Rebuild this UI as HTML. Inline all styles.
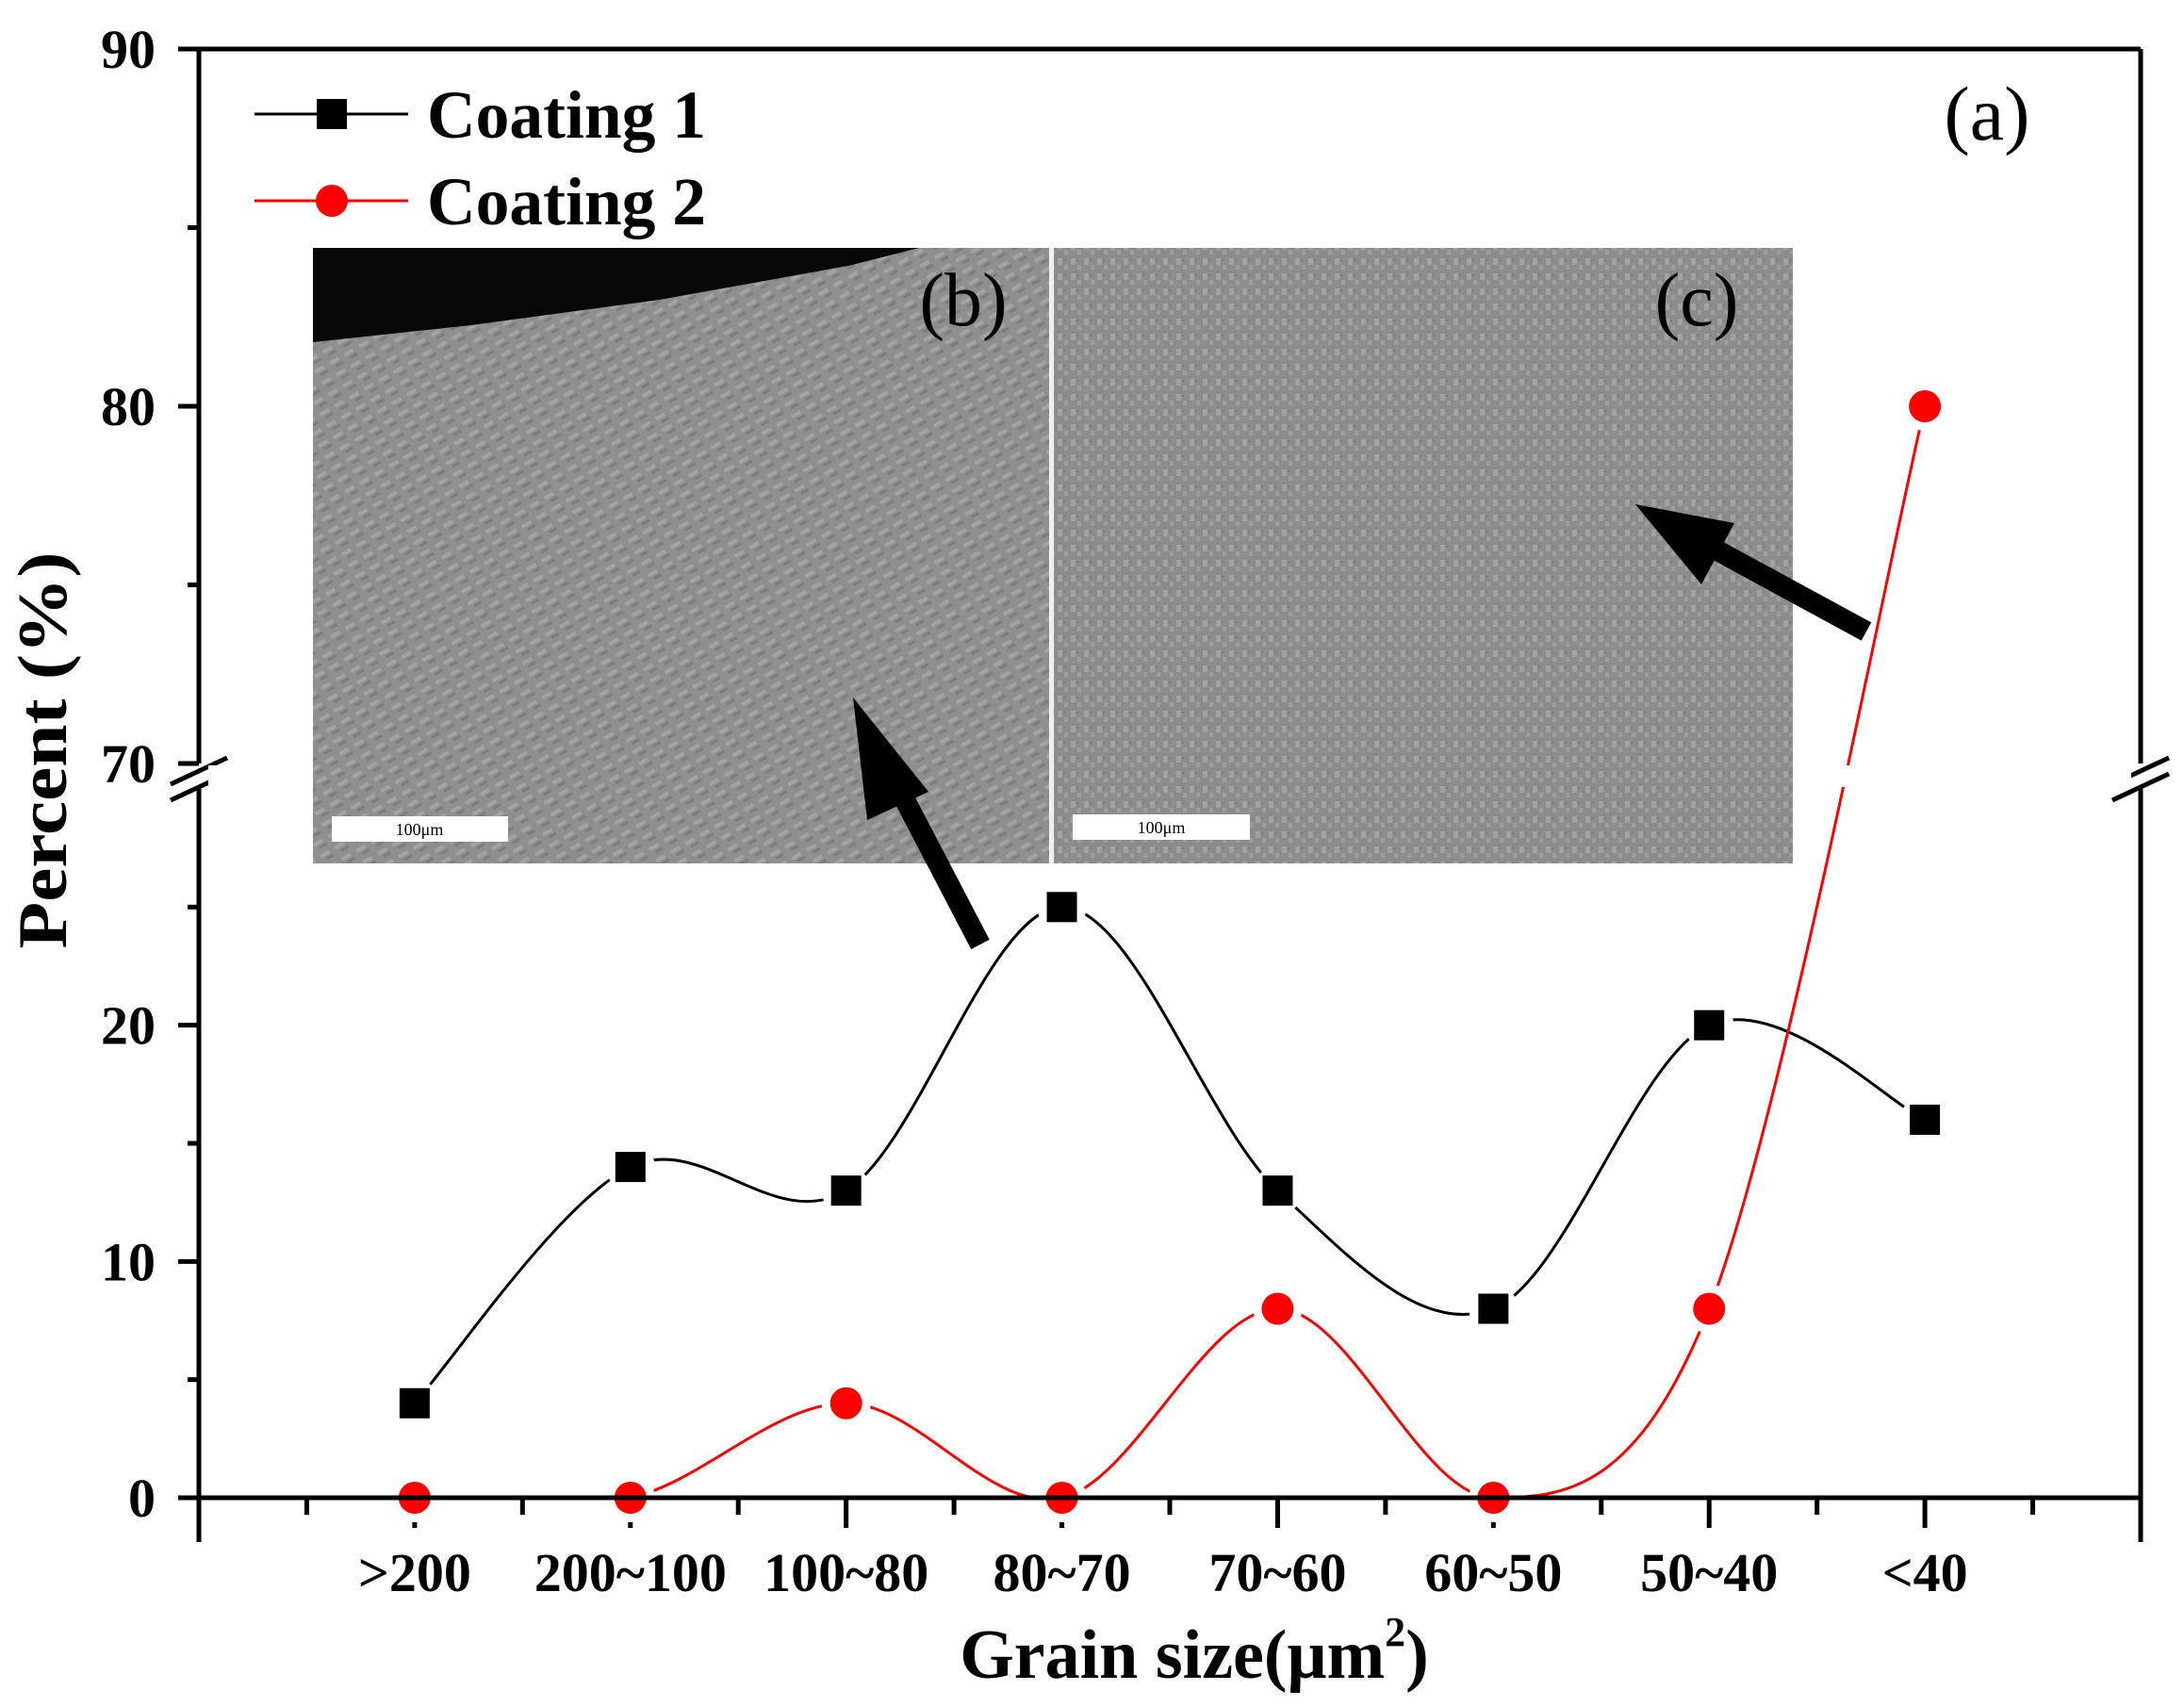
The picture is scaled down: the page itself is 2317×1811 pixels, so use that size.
<!DOCTYPE html>
<html><head><meta charset="utf-8"><style>
html,body{margin:0;padding:0;background:#fff;}
svg{display:block;}
text{font-family:"Liberation Serif",serif;}
</style></head><body>
<svg id="chart" width="2317" height="1811" viewBox="0 0 2317 1811" xmlns="http://www.w3.org/2000/svg">
<defs>
<pattern id="texB" width="18" height="14" patternUnits="userSpaceOnUse" patternTransform="rotate(-30)">
<rect width="18" height="14" fill="#8f8f8f"/><rect x="2" y="3" width="11" height="4" fill="#a3a3a3"/><rect x="6" y="9" width="9" height="3" fill="#7d7d7d"/>
</pattern>
<pattern id="texC" width="14" height="16" patternUnits="userSpaceOnUse">
<rect width="14" height="16" fill="#8c8c8c"/><rect x="2" y="2" width="5" height="7" fill="#a2a2a2"/><rect x="9" y="9" width="4" height="5" fill="#9d9d9d"/><rect x="8" y="3" width="2" height="2" fill="#7a7a7a"/>
</pattern>
</defs>
<g id="axes"></g>
<g id="series"></g>
<g id="insets">
<rect x="332" y="263" width="781" height="653" fill="url(#texB)"/>
<polygon points="332,263 975,263 900,282 800,300 700,318 500,345 332,363" fill="#080808"/>
<rect x="1118" y="263" width="784" height="653" fill="url(#texC)"/>
<line x1="1115.5" y1="263" x2="1115.5" y2="916" stroke="#eee" stroke-width="4"/>
<rect x="352" y="866" width="187" height="27" fill="#fff"/>
<text x="445" y="886" font-size="18" text-anchor="middle">100μm</text>
<rect x="1138" y="864" width="188" height="27" fill="#fff"/>
<text x="1232" y="884" font-size="18" text-anchor="middle">100μm</text>
<text x="1022" y="345" font-size="80" text-anchor="middle">(b)</text>
<text x="1800" y="345" font-size="80" text-anchor="middle">(c)</text>
</g>
<g>
<line x1="1040" y1="1002" x2="945" y2="820" stroke="#000" stroke-width="22"/>
<polygon points="905,740 985,840 920,870" fill="#000"/>
<line x1="1980" y1="670" x2="1820" y2="583" stroke="#000" stroke-width="22"/>
<polygon points="1735,535 1840,555 1805,620" fill="#000"/>
</g>
<g>
<line x1="270" y1="121" x2="433" y2="121" stroke="#000" stroke-width="3"/>
<rect x="336" y="105" width="32" height="32" fill="#000"/>
<text x="453" y="146" font-size="72" font-weight="bold" textLength="296" lengthAdjust="spacingAndGlyphs">Coating 1</text>
<line x1="270" y1="213" x2="433" y2="213" stroke="#f00" stroke-width="3"/>
<circle cx="352" cy="213" r="17" fill="#f00"/>
<text x="453" y="238" font-size="72" font-weight="bold" textLength="296" lengthAdjust="spacingAndGlyphs">Coating 2</text>
</g>
<text x="2108" y="148" font-size="82" text-anchor="middle">(a)</text>
<text transform="translate(70,796) rotate(-90)" font-size="74" font-weight="bold" text-anchor="middle" textLength="421" lengthAdjust="spacingAndGlyphs">Percent (%)</text>
<text x="1267" y="1780" font-size="74" font-weight="bold" text-anchor="middle">Grain size(μm<tspan font-size="44" dy="-34">2</tspan><tspan dy="34">)</tspan></text>
</svg>
<script>
const categories = [">200","200~100","100~80","80~70","70~60","60~50","50~40","<40"];
const coating1 = [4, 14, 13, 25, 13, 8, 20, 16];
const coating2 = [0, 0, 4, 0, 8, 0, 8, 80];
const lowerTicks = [0, 10, 20];
const upperTicks = [70, 80, 90];
const lowerMinor = [5, 15, 25];
const upperMinor = [75, 85];

const NS = "http://www.w3.org/2000/svg";
const L = 211, R = 2271, T = 52, B = 1589;
const LOW_MAX = 30, LOW_TOP = 837, UP_MIN = 70, UP_BOT = 810;
const step = (R - L) / (categories.length + 1);
function xScale(i) { return L + (i + 1) * step; }
function yScale(v) {
  if (v <= LOW_MAX) return B - v * (B - LOW_TOP) / LOW_MAX;
  return UP_BOT - (v - UP_MIN) * (UP_BOT - T) / (90 - UP_MIN);
}
function mk(tag, attrs, parent) {
  const e = document.createElementNS(NS, tag);
  for (const k in attrs) e.setAttribute(k, attrs[k]);
  parent.appendChild(e);
  return e;
}
const axes = document.getElementById("axes");
const ser = document.getElementById("series");
const st = {stroke: "#000", "stroke-width": 5};
let e;
e = mk("line", Object.assign({x1: L, y1: B, x2: R, y2: B}, st), axes);


e = mk("line", Object.assign({x1: L, y1: T, x2: R, y2: T}, st), axes);


[L, R].forEach(function (x) {
  e = mk("line", Object.assign({x1: x, y1: T, x2: x, y2: UP_BOT}, st), axes);
  
  
  e = mk("line", Object.assign({x1: x, y1: LOW_TOP, x2: x, y2: B + 47}, st), axes);
  
  
  e = mk("line", Object.assign({x1: x - 30, y1: UP_BOT + 22, x2: x + 30, y2: UP_BOT - 6}, st), axes);
  
  
  e = mk("line", Object.assign({x1: x - 30, y1: LOW_TOP + 12, x2: x + 30, y2: LOW_TOP - 16}, st), axes);
  
  
});
lowerTicks.concat(upperTicks).forEach(function (v) {
  const y = yScale(v);
  e = mk("line", Object.assign({x1: L - 22, y1: y, x2: L, y2: y}, st), axes);
  
  
  e = mk("text", {x: L - 46, y: y + 20, "font-size": 58, "font-weight": "bold", "text-anchor": "end"}, axes);
  e.textContent = v;
  
  
});
lowerMinor.concat(upperMinor).forEach(function (v) {
  const y = yScale(v);
  e = mk("line", Object.assign({x1: L - 12, y1: y, x2: L, y2: y}, st), axes);
  
  
});
for (let k = 0; k <= categories.length + 1; k++) {
  const x = L + k * step;
  e = mk("line", Object.assign({x1: x, y1: B, x2: x, y2: B + 32}, st), axes);
  
  
  if (k <= categories.length) {
    e = mk("line", Object.assign({x1: x + step / 2, y1: B, x2: x + step / 2, y2: B + 18}, st), axes);
    
    
  }
}
categories.forEach(function (c, i) {
  e = mk("text", {x: xScale(i), y: 1688, "font-size": 58, "font-weight": "bold", "text-anchor": "middle"}, axes);
  e.textContent = c;
  
  
});
function splinePath(pts) {
  let d = "M" + pts[0][0] + "," + pts[0][1];
  for (let i = 0; i < pts.length - 1; i++) {
    const p0 = pts[Math.max(0, i - 1)], p1 = pts[i], p2 = pts[i + 1], p3 = pts[Math.min(pts.length - 1, i + 2)];
    const c1 = [p1[0] + (p2[0] - p0[0]) / 6, p1[1] + (p2[1] - p0[1]) / 6];
    const c2 = [p2[0] - (p3[0] - p1[0]) / 6, p2[1] - (p3[1] - p1[1]) / 6];
    d += " C" + c1[0] + "," + c1[1] + " " + c2[0] + "," + c2[1] + " " + p2[0] + "," + p2[1];
  }
  return d;
}
mk("clipPath", {id: "plotclip"}, ser).appendChild(document.createElementNS(NS, "rect"));
const cr = ser.querySelector("clipPath rect");
cr.setAttribute("x", L); cr.setAttribute("y", T); cr.setAttribute("width", R - L); cr.setAttribute("height", B - T);
function drawSeries(vals, color, name, marker) {
  const pts = vals.map(function (v, i) { return [xScale(i), yScale(v)]; });
  e = mk("path", {d: splinePath(pts), fill: "none", stroke: color, "stroke-width": 3, "clip-path": "url(#plotclip)"}, ser);
  
  
  pts.forEach(function (p) {
    e = mk("circle", {cx: p[0], cy: p[1], r: 26, fill: "#fff"}, ser);
    
    
  });
  pts.forEach(function (p) {
    if (marker === "square") {
      e = mk("rect", {x: p[0] - 16, y: p[1] - 16, width: 32, height: 32, fill: color}, ser);
    } else {
      e = mk("circle", {cx: p[0], cy: p[1], r: 17, fill: color}, ser);
    }
    
    
  });
}
drawSeries(coating1, "#000", "coating-1", "square");
drawSeries(coating2, "#f00", "coating-2", "circle");
e = mk("rect", {x: L + 10, y: UP_BOT + 2, width: R - L - 20, height: LOW_TOP - UP_BOT - 4, fill: "#fff"}, ser);


e = mk("line", Object.assign({x1: L, y1: B, x2: R, y2: B}, st), ser);


</script>
</body></html>
